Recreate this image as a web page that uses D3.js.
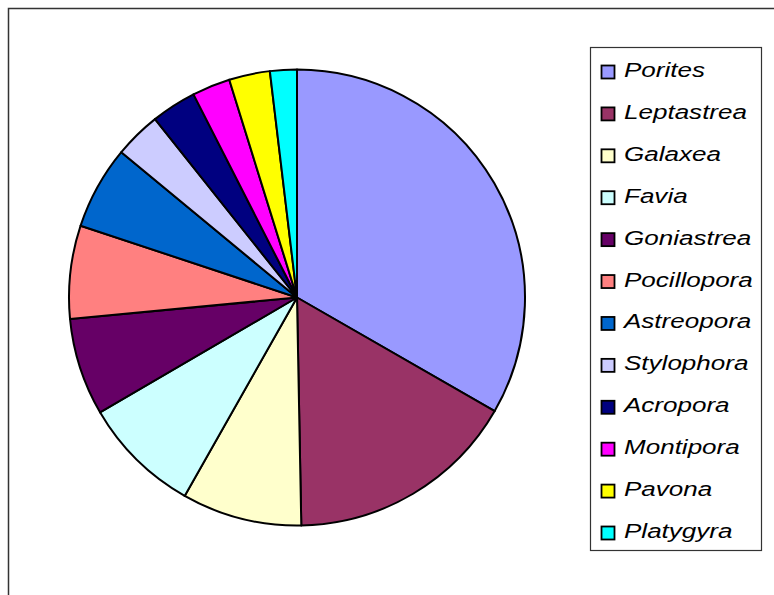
<!DOCTYPE html>
<html><head><meta charset="utf-8">
<script src="https://cdn.jsdelivr.net/npm/d3@7"></script>
<style>body{margin:0;background:#fff}svg{display:block}</style>
</head><body>
<script>
const categories = ["Porites","Leptastrea","Galaxea","Favia","Goniastrea","Pocillopora","Astreopora","Stylophora","Acropora","Montipora","Pavona","Platygyra"];
const values = [33.3,16.4,8.5,8.4,6.9,6.6,5.9,3.3,3.2,2.7,2.9,1.9];
const colors = ["#9999FF","#993366","#FFFFCC","#CCFFFF","#660066","#FF8080","#0066CC","#CCCCFF","#000080","#FF00FF","#FFFF00","#00FFFF"];

const W=774,H=595;
const svg=d3.select("body").append("svg").attr("width",W).attr("height",H);
svg.append("rect").attr("x",8.5).attr("y",8.5).attr("width",800).attr("height",700)
  .attr("fill","#fff").attr("stroke","#333").attr("stroke-width",1.5);

const cx=297,cy=297.5,r=228;
const data=categories.map((c,i)=>({c,v:values[i],col:colors[i]}));
const pie=d3.pie().value(d=>d.v).sort(null);
const arc=d3.arc().innerRadius(0).outerRadius(r);
svg.append("g").attr("transform",`translate(${cx},${cy})`)
  .selectAll("path").data(pie(data)).join("path")
  .attr("d",arc).attr("fill",d=>d.data.col).attr("stroke","#000").attr("stroke-width",2).attr("stroke-linejoin","round");

const lg=svg.append("g");
lg.append("rect").attr("x",590.5).attr("y",47.5).attr("width",171).attr("height",503)
  .attr("fill","#fff").attr("stroke","#333").attr("stroke-width",1.2);
const y=d3.scalePoint().domain(categories).range([72,533]);
const items=lg.selectAll("g.it").data(data).join("g").attr("class","it")
  .attr("transform",d=>`translate(0,${y(d.c)})`);
items.append("rect").attr("x",601.5).attr("y",-6.5).attr("width",13).attr("height",13)
  .attr("fill",d=>d.col).attr("stroke","#000").attr("stroke-width",1.8);
items.append("text").attr("transform","translate(624,5) scale(1.27,1)").text(d=>d.c)
  .attr("font-family","Liberation Sans, Arial, sans-serif").attr("font-style","italic")
  .attr("font-size",20.5).attr("fill","#000");
</script>
</body></html>
